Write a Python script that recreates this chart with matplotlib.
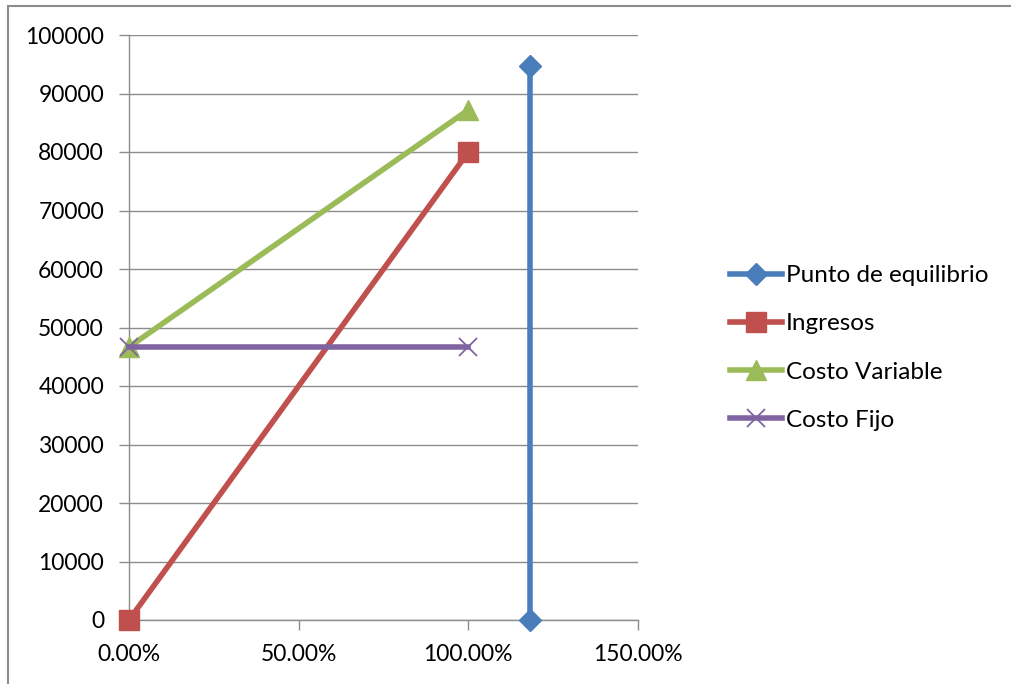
import matplotlib

matplotlib.use("Agg")
import matplotlib.pyplot as plt
from matplotlib.patches import Rectangle
from matplotlib.ticker import FuncFormatter, MultipleLocator

W_PX, H_PX = 1011, 684
DPI = 100

# ---- Series (x in fraction of sales, y in currency) ----
equilibrio_x = [1.182, 1.182]
equilibrio_y = [94700, 0]

ingresos_x = [0.0, 1.0]
ingresos_y = [0, 80000]

variable_x = [0.0, 1.0]
variable_y = [46667, 87200]

fijo_x = [0.0, 1.0]
fijo_y = [46667, 46667]

labels = ["Punto de equilibrio", "Ingresos", "Costo Variable", "Costo Fijo"]

BLUE = "#4a7ebb"
RED = "#c0504d"
GREEN = "#9bbb59"
PURPLE = "#8064a2"
GRID = "#8c8c8c"

plt.rcParams["font.family"] = ["Lato", "DejaVu Sans"]

fig = plt.figure(figsize=(W_PX / DPI, H_PX / DPI), dpi=DPI, facecolor="white")

# outer chart frame (only top/left edges fall inside the image)
fig.patches.append(Rectangle((8 / W_PX, -1.0), 2.0, 2.0 - 6 / H_PX,
                             transform=fig.transFigure, fill=False,
                             edgecolor="#8c8c8c", linewidth=1.5))

ax = fig.add_axes([129 / W_PX, 1 - 620 / H_PX, (638 - 129) / W_PX, (620 - 35) / H_PX])

lw = 4.0
ax.plot(equilibrio_x, equilibrio_y, color=BLUE, lw=lw, marker="D", ms=11.5,
        label=labels[0], zorder=3, clip_on=False)
ax.plot(ingresos_x, ingresos_y, color=RED, lw=lw, marker="s", ms=14,
        label=labels[1], zorder=3, clip_on=False)
ax.plot(variable_x, variable_y, color=GREEN, lw=lw, marker="^", ms=14,
        label=labels[2], zorder=3, clip_on=False)
ax.plot(fijo_x, fijo_y, color=PURPLE, lw=lw, marker="x", ms=13, mew=1.3,
        label=labels[3], zorder=3, clip_on=False)

ax.set_xlim(0, 1.5)
ax.set_ylim(0, 100000)
ax.xaxis.set_major_locator(MultipleLocator(0.5))
ax.yaxis.set_major_locator(MultipleLocator(10000))
ax.xaxis.set_major_formatter(FuncFormatter(lambda v, _: f"{v * 100:.2f}%"))
ax.yaxis.set_major_formatter(FuncFormatter(lambda v, _: f"{v:.0f}"))

ax.grid(axis="y", color=GRID, lw=1)
ax.set_axisbelow(True)
for side in ("top", "right"):
    ax.spines[side].set_visible(False)
for side in ("left", "bottom"):
    ax.spines[side].set_color(GRID)
    ax.spines[side].set_linewidth(1)

ax.tick_params(axis="both", colors=GRID, labelcolor="black", labelsize=16.5,
               length=7, width=1, direction="out")
ax.tick_params(axis="x", pad=10)
ax.tick_params(axis="y", pad=11)

leg = ax.legend(loc="center left", bbox_to_anchor=(720 / W_PX, 1 - 348 / H_PX),
                bbox_transform=fig.transFigure, frameon=False, fontsize=17.5,
                handlelength=2.15, handletextpad=0.15, labelspacing=1.12,
                borderaxespad=0)

fig.savefig("out.png", dpi=DPI, facecolor="white")
